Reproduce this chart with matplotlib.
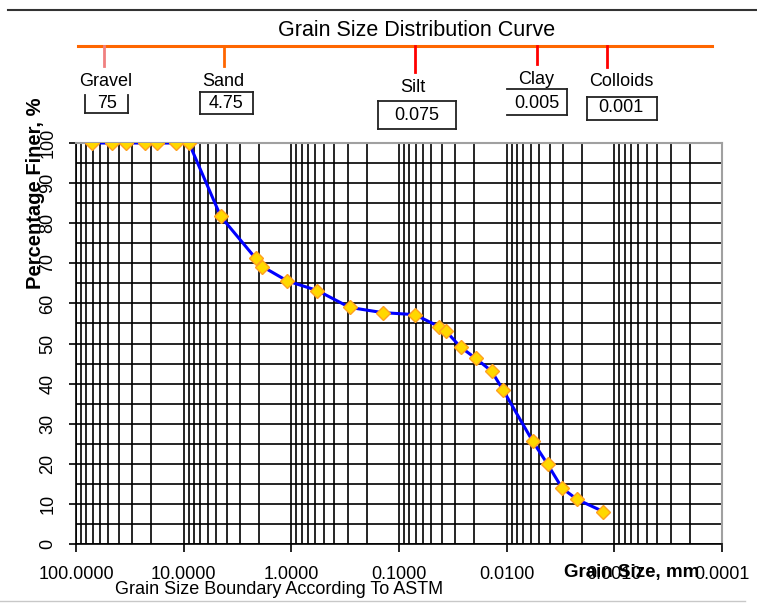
import matplotlib
matplotlib.use("Agg")
import matplotlib.pyplot as plt
from matplotlib.lines import Line2D
from matplotlib.ticker import FixedLocator, FormatStrFormatter, LogLocator, MultipleLocator

plt.rcParams["font.family"] = ["Liberation Sans", "DejaVu Sans"]

# sieve / hydrometer results
grain_size_mm = [71.2, 46.4, 34.1, 23.0, 17.7, 11.7, 8.93, 4.53, 2.14, 1.86,
                 1.09, 0.572, 0.287, 0.142, 0.0713, 0.0424, 0.0367, 0.0268,
                 0.0194, 0.0138, 0.0108, 0.00575, 0.00417, 0.00305, 0.00221,
                 0.00127]
percent_finer = [100, 100, 100, 100, 100, 100, 100, 81.7, 71.2, 69.2,
                 65.6, 63.2, 59.0, 57.7, 57.2, 54.2, 53.1, 49.1,
                 46.3, 43.1, 38.4, 25.7, 19.9, 13.9, 11.1,
                 8.1]

# ASTM boundaries shown above the chart
soil_names = ["Gravel", "Sand", "Silt", "Clay", "Colloids"]
boundary_values = ["75", "4.75", "0.075", "0.005", "0.001"]

W, H = 757, 603
fig = plt.figure(figsize=(W / 100, H / 100), dpi=100)


def fx(x):
    return x / W


def fy(y):
    return 1 - y / H


def hline(x0, x1, y, **kw):
    fig.add_artist(Line2D([fx(x0), fx(x1)], [fy(y), fy(y)], transform=fig.transFigure, **kw))


def vline(x, y0, y1, **kw):
    fig.add_artist(Line2D([fx(x), fx(x)], [fy(y0), fy(y1)], transform=fig.transFigure, **kw))


ax = fig.add_axes([fx(76), fy(544), fx(722) - fx(76), fy(143) - fy(544)])

ax.plot(grain_size_mm, percent_finer, color="#0000FF", lw=2.2, zorder=3)
ax.plot(grain_size_mm, percent_finer, ls="none", marker="D", ms=7.5,
        mfc="#FFD800", mec="#FFA020", mew=1, zorder=4)

ax.set_xscale("log")
ax.set_xlim(100, 0.0001)
ax.set_ylim(0, 100)

ax.xaxis.set_major_locator(FixedLocator([100, 10, 1, 0.1, 0.01, 0.001, 0.0001]))
ax.xaxis.set_minor_locator(LogLocator(base=10, subs=range(2, 10), numticks=20))
ax.xaxis.set_major_formatter(FormatStrFormatter("%.4f"))
ax.yaxis.set_major_locator(MultipleLocator(10))
ax.yaxis.set_minor_locator(MultipleLocator(5))

ax.grid(True, which="both", color="black", lw=1.2)
ax.tick_params(axis="x", which="major", direction="out", length=6, width=1.2,
               labelsize=13, pad=10)
ax.tick_params(axis="x", which="minor", length=0)
ax.tick_params(axis="y", which="major", direction="out", length=5, width=1.2,
               labelsize=13, pad=9, labelrotation=90)
ax.tick_params(axis="y", which="minor", length=0)
for lab in ax.get_yticklabels():
    lab.set_va("center")
    lab.set_ha("right")

for side in ("top", "right"):
    ax.spines[side].set_color("#A0A0A0")
    ax.spines[side].set_linewidth(1.5)
for side in ("left", "bottom"):
    ax.spines[side].set_color("black")
    ax.spines[side].set_linewidth(1.2)

# axis titles
fig.text(fx(36), fy(193), "Percentage Finer, %", rotation=90, fontsize=14.5,
         fontweight="bold", ha="center", va="center")
fig.text(fx(632), fy(573), "Grain Size, mm", fontsize=13.5, fontweight="bold",
         ha="center", va="center")
fig.text(fx(279), fy(590), "Grain Size Boundary According To ASTM", fontsize=13,
         ha="center", va="center")

# header
hline(8, 757, 10, color="#333333", lw=1.5)
hline(0, 745, 601, color="#C8C8C8", lw=1)
fig.text(fx(417), fy(30), "Grain Size Distribution Curve", fontsize=15.5,
         ha="center", va="center")
hline(78, 712, 46, color="#FF6600", lw=2.2)

tick_x = [104, 224, 415, 537, 607]
tick_end = [66, 66, 72, 64, 67]
tick_colors = ["#F08080", "#FF6600", "#FF0000", "#FF0000", "#FF0000"]
name_pos = [(106, 82), (223, 82), (413, 88), (536, 80), (621, 82)]
value_pos = [(107, 103), (226, 103), (417, 116), (537, 103), (621, 108)]
boxes = [(85, 128, 95, 113), (200, 253, 92, 114), (378, 456, 101, 129),
         (507, 567, 89, 115), (587, 657, 97, 120)]
box_sides = ["lbr", "tlbr", "tlbr", "tbr", "tlbr"]

for i, name in enumerate(soil_names):
    vline(tick_x[i], 46, tick_end[i], color=tick_colors[i], lw=2)
    fig.text(fx(name_pos[i][0]), fy(name_pos[i][1]), name, fontsize=13,
             ha="center", va="center")
    fig.text(fx(value_pos[i][0]), fy(value_pos[i][1]), boundary_values[i],
             fontsize=13, ha="center", va="center")
    x0, x1, y0, y1 = boxes[i]
    kw = dict(color="#222222", lw=1.3)
    if "t" in box_sides[i]:
        hline(x0, x1, y0, **kw)
    if "b" in box_sides[i]:
        hline(x0, x1, y1, **kw)
    if "l" in box_sides[i]:
        vline(x0, y0, y1, **kw)
    if "r" in box_sides[i]:
        vline(x1, y0, y1, **kw)

fig.savefig("out.png", dpi=100)
